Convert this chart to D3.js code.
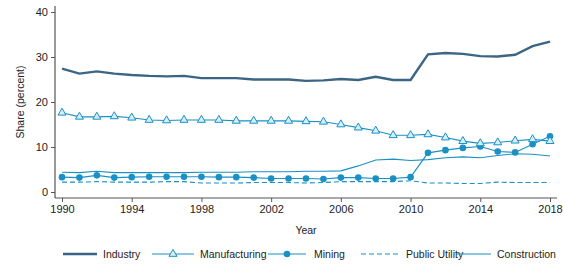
<!DOCTYPE html>
<html><head><meta charset="utf-8">
<script src="https://cdn.jsdelivr.net/npm/d3@7"></script>
<style>body{margin:0;background:#fff}svg{display:block;font-family:"Liberation Sans",Arial,sans-serif}</style>
</head><body><svg id="c" width="564" height="264"></svg>
<script>
const years = d3.range(1990, 2019);
const industry = [27.4,26.3,26.8,26.3,26.0,25.8,25.7,25.8,25.3,25.3,25.3,25.0,25.0,25.0,24.7,24.8,25.1,24.9,25.6,24.9,24.9,30.6,30.9,30.7,30.2,30.1,30.5,32.4,33.4];
const manufacturing = [17.6,16.7,16.7,16.8,16.5,16.0,15.9,16.0,16.0,16.0,15.8,15.8,15.8,15.8,15.7,15.6,15.0,14.3,13.6,12.6,12.6,12.8,12.1,11.3,10.8,11.0,11.4,11.7,11.3];
const mining = [3.3,3.2,3.7,3.2,3.3,3.4,3.4,3.4,3.4,3.3,3.3,3.2,3.0,3.0,3.0,2.9,3.2,3.2,3.0,3.0,3.3,8.7,9.3,9.8,10.1,9.0,8.8,10.6,12.4];
const publicUtility = [2.2,2.2,2.3,2.2,2.2,2.2,2.3,2.3,2.0,2.0,2.0,2.1,2.1,2.1,2.0,2.1,2.3,2.3,2.3,2.3,2.5,2.0,2.0,1.9,1.9,2.2,2.1,2.1,2.1];
const construction = [4.4,4.3,4.6,4.3,4.3,4.3,4.3,4.3,4.4,4.4,4.4,4.5,4.5,4.5,4.6,4.6,4.7,5.8,7.1,7.3,7.0,7.2,7.6,7.8,7.6,8.1,8.5,8.4,8.0];
const xTicks = [1990,1994,1998,2002,2006,2010,2014,2018];
const yTicks = [0,10,20,30,40];
const seriesNames = ["Industry","Manufacturing","Mining","Public Utility","Construction"];

const svg = d3.select("#c");
const x = d3.scaleLinear().domain([1990,2018]).range([62,550]);
const y = d3.scaleLinear().domain([0,40]).range([192,12]);
const dark = "#3b6585", blue = "#1a90c4";

// axes
const yAx = svg.append("g").attr("transform","translate(55,0)")
  .call(d3.axisLeft(y).tickValues(yTicks).tickSize(4).tickPadding(3));
yAx.select(".domain").attr("d","M0,6V198").attr("stroke","#555").attr("stroke-width",1.2);
const xAx = svg.append("g").attr("transform","translate(0,198)")
  .call(d3.axisBottom(x).tickValues(xTicks).tickFormat(d3.format("d")).tickSize(4).tickPadding(3));
xAx.select(".domain").attr("d","M55,0H557").attr("stroke","#555").attr("stroke-width",1.2);
svg.selectAll(".tick line").attr("stroke","#555");
svg.selectAll(".tick text").attr("font-size",11).attr("fill","#222").attr("font-family","Liberation Sans, Arial");

svg.append("text").attr("transform","translate(24,102) rotate(-90)").attr("text-anchor","middle")
  .attr("font-size",10.5).attr("fill","#222").text("Share (percent)");
svg.append("text").attr("x",306).attr("y",234).attr("text-anchor","middle")
  .attr("font-size",10.5).attr("fill","#222").text("Year");

const line = d3.line().x((d,i)=>x(years[i])).y(d=>y(d));
const g = svg.append("g");
g.append("path").datum(construction).attr("d",line).attr("fill","none").attr("stroke",blue).attr("stroke-width",1.1);
g.append("path").datum(publicUtility).attr("d",line).attr("fill","none").attr("stroke",blue).attr("stroke-width",1.1).attr("stroke-dasharray","5,3");
g.append("path").datum(mining).attr("d",line).attr("fill","none").attr("stroke",blue).attr("stroke-width",1.1);
g.selectAll(".mc").data(mining).join("circle").attr("cx",(d,i)=>x(years[i])).attr("cy",d=>y(d)).attr("r",3.3).attr("fill",blue);
g.append("path").datum(manufacturing).attr("d",line).attr("fill","none").attr("stroke",blue).attr("stroke-width",1.1);
const tri = d3.symbol().type(d3.symbolTriangle).size(28);
g.selectAll(".tc").data(manufacturing).join("path").attr("d",tri)
  .attr("transform",(d,i)=>`translate(${x(years[i])},${y(d)})`).attr("fill","#d6eef8").attr("stroke",blue).attr("stroke-width",1);
g.append("path").datum(industry).attr("d",line).attr("fill","none").attr("stroke",dark).attr("stroke-width",2.4);

// legend
const leg = svg.append("g").attr("font-size",10.5).attr("fill","#222");
const items = [
  {n:seriesNames[0],x0:63,x1:97,tx:103,w:2.4,c:dark},
  {n:seriesNames[1],x0:152,x1:194,tx:200,w:1.1,c:blue,m:"tri"},
  {n:seriesNames[2],x0:268,x1:306,tx:314,w:1.1,c:blue,m:"circ"},
  {n:seriesNames[3],x0:361,x1:400,tx:406,w:1.1,c:blue,dash:"5,3"},
  {n:seriesNames[4],x0:456,x1:491,tx:497,w:1.1,c:blue}
];
const ly = 254;
items.forEach(it=>{
  leg.append("line").attr("x1",it.x0).attr("x2",it.x1).attr("y1",ly).attr("y2",ly)
    .attr("stroke",it.c).attr("stroke-width",it.w).attr("stroke-dasharray",it.dash||null);
  const mx=(it.x0+it.x1)/2;
  if(it.m==="tri") leg.append("path").attr("d",tri).attr("transform",`translate(${mx},${ly})`).attr("fill","#d6eef8").attr("stroke",blue);
  if(it.m==="circ") leg.append("circle").attr("cx",mx).attr("cy",ly).attr("r",3.3).attr("fill",blue);
  leg.append("text").attr("x",it.tx).attr("y",ly+4).text(it.n);
});
</script></body></html>
